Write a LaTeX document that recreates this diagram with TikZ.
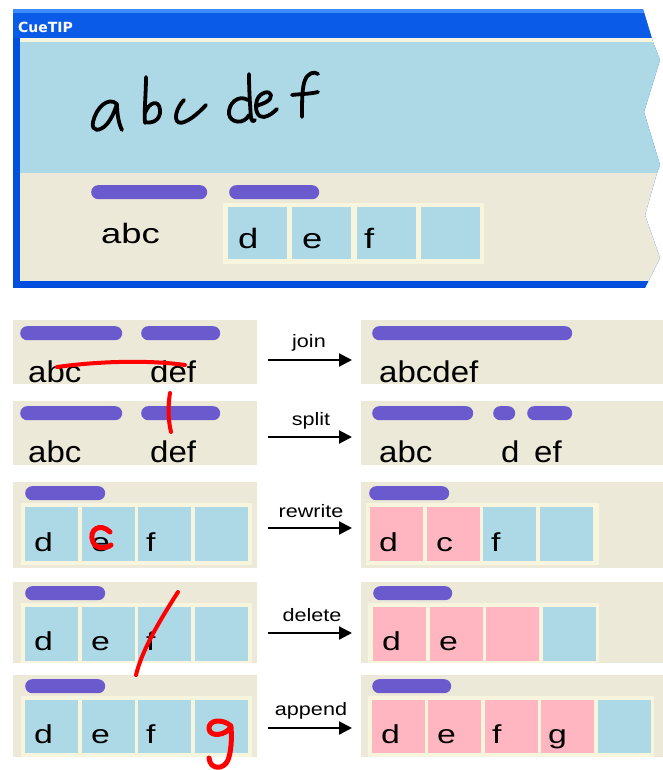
\documentclass[tikz,border=0pt]{standalone}
\usepackage{fontspec}
\setmainfont{Liberation Sans}
\newfontfamily\uiwide[FakeStretch=1.3]{Liberation Sans}
\newfontfamily\uimid[FakeStretch=1.1]{Liberation Sans}
\newfontfamily\uilabel[FakeStretch=1.2]{Liberation Sans}
\newfontfamily\titlefont{DejaVu Sans}
\usetikzlibrary{arrows.meta}

\definecolor{xpbeige}{HTML}{ECE9D8}
\definecolor{cueblue}{HTML}{ADD8E6}
\definecolor{barpurple}{HTML}{6A5ACD}
\definecolor{cellpink}{HTML}{FFB6C1}
\definecolor{cellrim}{HTML}{F7F5DD}
\definecolor{xptitle}{HTML}{0A5CE8}
\definecolor{xptitlehi}{HTML}{3D8BFF}
\definecolor{xpframe}{HTML}{0050E0}
\definecolor{inkred}{HTML}{FF0000}

\tikzset{
  panel/.style={fill=xpbeige, draw=none, inner sep=0pt, outer sep=0pt, anchor=north west},
  cuebar/.style={fill=barpurple, draw=none, rounded corners=7pt, minimum height=14pt, inner sep=0pt, anchor=north west},
  rim/.style={fill=cellrim, draw=none, inner sep=0pt, anchor=north west},
  bluecell/.style={fill=cueblue, draw=none, inner sep=0pt, anchor=north west, minimum width=53pt},
  pinkcell/.style={bluecell, fill=cellpink},
  celltext/.style={anchor=base west, inner sep=0pt, font=\uiwide\fontsize{26}{26}\selectfont},
  rowtext/.style={anchor=base west, inner sep=0pt, font=\uimid\fontsize{30}{30}\selectfont},
  toptext/.style={anchor=base west, inner sep=0pt, font=\uiwide\fontsize{28}{28}\selectfont},
  lab/.style={anchor=base, inner sep=0pt, font=\uilabel\fontsize{18}{18}\selectfont},
  flow/.style={line width=2.2pt, -{Triangle[length=13pt,width=13pt]}},
  pen/.style={black, line width=3.8pt, line cap=round, line join=round},
  redink/.style={inkred, line width=4pt, line cap=round, line join=round},
}

\begin{document}
\begin{tikzpicture}[x=1pt,y=-1pt]
\useasboundingbox (0,0) rectangle (663,770);
\fill[white] (0,0) rectangle (663,770);

% ---------- CueTIP window with torn right edge ----------
\begin{scope}
  \clip (13,9) -- (643,9) -- (652,39) -- (653,42) -- (660,60) -- (644,112)
        -- (660,165) -- (657,173) -- (645,215) -- (660,258) -- (645,288)
        -- (13,288) -- cycle;
  \fill[xpframe] (13,9) rectangle (663,288);
  \fill[xptitle] (13,12) rectangle (663,38);
  \fill[xptitlehi] (13,9) rectangle (663,13);
  \fill[cellrim] (20,38) rectangle (663,42);
  \fill[cueblue] (20,42) rectangle (663,173);
  \fill[xpbeige] (20,173) rectangle (663,281);
\end{scope}
\node[anchor=base west, inner sep=0pt, text=white,
      font=\titlefont\bfseries\fontsize{14}{14}\selectfont] (title) at (18,32.5) {CueTIP};

% handwritten ink "abc def"
\draw[pen] (117,104) .. controls (108,96) and (96,108) .. (93,122)
           .. controls (91,132) and (100,132) .. (107,124)
           .. controls (112,118) and (115,110) .. (117,104)
           .. controls (117,115) and (119,124) .. (122,130);
\draw[pen] (146,77) .. controls (146,95) and (144,110) .. (145,123);
\draw[pen] (145,113) .. controls (149,102) and (159,99) .. (160,110)
           .. controls (161,120) and (152,124) .. (145,122);
\draw[pen] (184,100) .. controls (178,106) and (174,116) .. (177,121)
           .. controls (181,127) and (195,117) .. (206,105);
\draw[pen] (248,100) .. controls (238,94) and (228,104) .. (229,114)
           .. controls (230,123) and (244,125) .. (249,115);
\draw[pen] (249,74) .. controls (249,90) and (250,105) .. (251,118)
           .. controls (252,122) and (254,122) .. (255,120);
\draw[pen] (256,106) .. controls (262,104) and (272,101) .. (271,95)
           .. controls (270,90) and (260,92) .. (257,100)
           .. controls (254,110) and (258,118) .. (264,117)
           .. controls (269,116) and (273,113) .. (277,109);
\draw[pen] (302,117) .. controls (302,100) and (302,88) .. (305,80)
           .. controls (308,73) and (314,71) .. (318,74);
\draw[pen] (292,95) .. controls (300,94) and (310,94) .. (318,92);

% recognised words
\node[cuebar, minimum width=116pt] (tb1) at (91,185) {};
\node[cuebar, minimum width=90pt] (tb2) at (229,185) {};
\node[toptext] (tabc) at (101,243) {abc};
\node[rim, minimum width=261pt, minimum height=61pt] (trim) at (223,203) {};
\foreach \x [count=\i] in {228,292,357,421}
  \node[bluecell, minimum width=59pt, minimum height=52pt] (tc\i) at (\x,207) {};
\node[toptext] (td) at (238,248) {d};
\node[toptext] (te) at (302,248) {e};
\node[toptext] (tf) at (364,248) {f};

% ---------- join ----------
\node[panel, minimum width=244pt, minimum height=64pt] (L1) at (13,320) {};
\node[panel, minimum width=302pt, minimum height=64pt] (R1) at (361,320) {};
\node[cuebar, minimum width=102pt] (L1b1) at (20,326) {};
\node[cuebar, minimum width=79pt] (L1b2) at (141,326) {};
\node[rowtext] (L1t1) at (28,382) {abc};
\node[rowtext] (L1t2) at (150,382) {def};
\draw[redink] (57,367) .. controls (100,361) and (150,360) .. (185,365);
\node[cuebar, minimum width=200pt] (R1b1) at (372,326) {};
\node[rowtext] (R1t1) at (379,382) {abcdef};
\coordinate (j0) at (268,360);
\coordinate (j1) at (352,360);
\draw[flow] (j0) -- (j1);
\node[lab] (jlab) at (309,347) {join};

% ---------- split ----------
\node[panel, minimum width=244pt, minimum height=64pt] (L2) at (13,401) {};
\node[panel, minimum width=302pt, minimum height=64pt] (R2) at (361,401) {};
\node[cuebar, minimum width=102pt] (L2b1) at (20,406) {};
\node[cuebar, minimum width=79pt] (L2b2) at (141,406) {};
\node[rowtext] (L2t1) at (28,462) {abc};
\node[rowtext] (L2t2) at (150,462) {def};
\draw[redink] (170,393) .. controls (168,405) and (168,420) .. (171,432);
\node[cuebar, minimum width=101pt] (R2b1) at (372,406) {};
\node[cuebar, minimum width=22pt] (R2b2) at (493,406) {};
\node[cuebar, minimum width=45pt] (R2b3) at (527,406) {};
\node[rowtext] (R2t1) at (379,462) {abc};
\node[rowtext] (R2t2) at (501,462) {d};
\node[rowtext] (R2t3) at (534,462) {ef};
\coordinate (s0) at (268,437);
\coordinate (s1) at (352,437);
\draw[flow] (s0) -- (s1);
\node[lab] (slab) at (311,425) {split};

% ---------- rewrite ----------
\node[panel, minimum width=244pt, minimum height=86pt] (L3) at (13,482) {};
\node[panel, minimum width=302pt, minimum height=86pt] (R3) at (361,482) {};
\node[cuebar, minimum width=80pt] (L3b) at (25,486) {};
\node[rim, minimum width=231pt, minimum height=62pt] (L3r) at (21,503) {};
\foreach \x [count=\i] in {25,82,138,195}
  \node[bluecell, minimum height=54pt] (L3c\i) at (\x,507) {};
\node[celltext] (L3t1) at (34,551) {d};
\node[celltext] (L3t2) at (91,551) {e};
\node[celltext] (L3t3) at (146,551) {f};
\draw[redink, line width=5pt] (110,532) .. controls (100,522) and (88,530) .. (93,542)
      .. controls (96,549) and (106,549) .. (111,545);
\node[cuebar, minimum width=80pt] (R3b) at (369,486) {};
\node[rim, minimum width=233pt, minimum height=62pt] (R3r) at (366,503) {};
\node[pinkcell, minimum height=54pt] (R3c1) at (370,507) {};
\node[pinkcell, minimum height=54pt] (R3c2) at (427,507) {};
\node[bluecell, minimum height=54pt] (R3c3) at (483,507) {};
\node[bluecell, minimum height=54pt] (R3c4) at (540,507) {};
\node[celltext] (R3t1) at (379,551) {d};
\node[celltext] (R3t2) at (436,551) {c};
\node[celltext] (R3t3) at (491,551) {f};
\coordinate (r0) at (268,528);
\coordinate (r1) at (352,528);
\draw[flow] (r0) -- (r1);
\node[lab] (rlab) at (311,517) {rewrite};

% ---------- delete ----------
\node[panel, minimum width=244pt, minimum height=81pt] (L4) at (13,582) {};
\node[panel, minimum width=302pt, minimum height=81pt] (R4) at (361,582) {};
\node[cuebar, minimum width=80pt] (L4b) at (25,586) {};
\node[rim, minimum width=231pt, minimum height=60pt] (L4r) at (21,603) {};
\foreach \x [count=\i] in {25,82,138,195}
  \node[bluecell, minimum height=54pt] (L4c\i) at (\x,607) {};
\node[celltext] (L4t1) at (34,650) {d};
\node[celltext] (L4t2) at (91,650) {e};
\node[celltext] (L4t3) at (146,650) {f};
\node[cuebar, minimum width=79pt] (R4b) at (373,586) {};
\node[rim, minimum width=231pt, minimum height=60pt] (R4r) at (368,603) {};
\node[pinkcell, minimum height=54pt] (R4c1) at (373,607) {};
\node[pinkcell, minimum height=54pt] (R4c2) at (430,607) {};
\node[pinkcell, minimum height=54pt] (R4c3) at (486,607) {};
\node[bluecell, minimum height=54pt] (R4c4) at (543,607) {};
\node[celltext] (R4t1) at (382,650) {d};
\node[celltext] (R4t2) at (439,650) {e};
\coordinate (d0) at (268,633);
\coordinate (d1) at (352,633);
\draw[flow] (d0) -- (d1);
\node[lab] (dlab) at (312,621) {delete};

% ---------- append ----------
\node[panel, minimum width=244pt, minimum height=82pt] (L5) at (13,675) {};
\node[panel, minimum width=302pt, minimum height=82pt] (R5) at (361,675) {};
\node[cuebar, minimum width=80pt] (L5b) at (25,679) {};
\node[rim, minimum width=231pt, minimum height=61pt] (L5r) at (21,696) {};
\foreach \x [count=\i] in {25,82,138,195}
  \node[bluecell, minimum height=53pt] (L5c\i) at (\x,700) {};
\node[celltext] (L5t1) at (34,743) {d};
\node[celltext] (L5t2) at (91,743) {e};
\node[celltext] (L5t3) at (146,743) {f};
\node[cuebar, minimum width=79pt] (R5b) at (372,679) {};
\node[rim, minimum width=286pt, minimum height=61pt] (R5r) at (368,696) {};
\foreach \x [count=\i] in {372,428,485,541}
  \node[pinkcell, minimum height=53pt] (R5c\i) at (\x,700) {};
\node[bluecell, minimum height=53pt] (R5c5) at (598,700) {};
\node[celltext] (R5t1) at (381,743) {d};
\node[celltext] (R5t2) at (437,743) {e};
\node[celltext] (R5t3) at (492,743) {f};
\node[celltext] (R5t4) at (548,743) {g};
\coordinate (p0) at (268,728);
\coordinate (p1) at (352,728);
\draw[flow] (p0) -- (p1);
\node[lab] (plab) at (311,715) {append};

% red ink gestures drawn over the panels
\draw[redink] (178,592) .. controls (160,620) and (142,650) .. (136,675);
\draw[redink, line width=5pt] (231,726) .. controls (222,718) and (208,720) .. (209,729)
      .. controls (210,737) and (225,736) .. (231,727)
      .. controls (232,740) and (231,752) .. (228,760)
      .. controls (224,770) and (210,770) .. (209,758);
\end{tikzpicture}
\end{document}
